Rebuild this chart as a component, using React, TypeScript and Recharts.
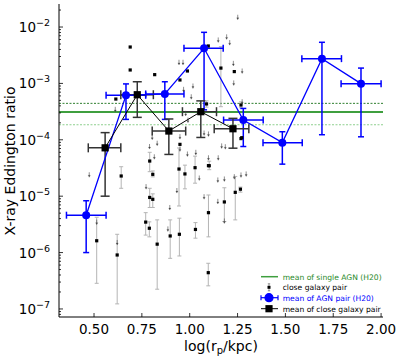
import { ScatterChart, Scatter, XAxis, YAxis, ErrorBar, ReferenceLine } from "recharts";

const FONT = "DejaVu Sans";

const X_DOMAIN = [0.317, 2.01];
const X_TICKS = [0.5, 0.75, 1.0, 1.25, 1.5, 1.75, 2.0];
const Y_DOMAIN = [7.2e-8, 2.56e-2];
const Y_DECADES = [-8, -7, -6, -5, -4, -3, -2];

// mean of AGN pair (H20)
const AGN_X = [0.459, 0.667, 0.87, 1.075, 1.28, 1.484, 1.691, 1.895];
const AGN_XLO = [0.356, 0.563, 0.77, 0.97, 1.177, 1.383, 1.586, 1.791];
const AGN_XHI = [0.563, 0.77, 0.97, 1.175, 1.384, 1.588, 1.793, 2.0];
const AGN_Y = [4.6e-6, 6.15e-4, 6.5e-4, 4.2e-3, 2.24e-4, 8.9e-5, 2.75e-3, 9.9e-4];
const AGN_YLO = [1.0e-6, 2.3e-4, 2.3e-4, 3.4e-4, 7.6e-5, 3.7e-5, 1.23e-4, 1.13e-4];
const AGN_YHI = [8.3e-6, 9.8e-4, 1.07e-3, 8.05e-3, 3.6e-4, 1.39e-4, 5.36e-3, 1.87e-3];

// mean of close galaxy pair
const PAIR_X = [0.558, 0.726, 0.891, 1.058, 1.226];
const PAIR_XLO = [0.47, 0.64, 0.804, 0.962, 1.128];
const PAIR_XHI = [0.64, 0.81, 0.979, 1.14, 1.309];
const PAIR_Y = [7.2e-5, 6.3e-4, 1.43e-4, 3.15e-4, 1.57e-4];
const PAIR_YLO = [1.0e-5, 2.5e-4, 5.5e-5, 1.1e-4, 7.1e-5];
const PAIR_YHI = [1.34e-4, 1.07e-3, 2.34e-4, 4.9e-4, 2.4e-4];

// mean of single AGN (H20) and its range
const SINGLE_AGN = 3.1e-4;
const SINGLE_AGN_LO = 1.85e-4;
const SINGLE_AGN_HI = 4.43e-4;

// close galaxy pairs, detections
const DET_X = [0.689, 0.689, 0.817, 0.988, 0.614, 0.949, 1.097, 1.163, 1.233, 1.088, 1.268, 1.272, 1.098, 0.949, 0.944, 0.975, 1.028, 1.102, 1.268, 1.238, 1.265, 1.181, 1.098, 0.791, 0.807, 0.642, 0.791, 0.807, 0.77, 0.789, 0.83, 0.898, 0.946, 1.03, 0.514, 0.621, 1.097];
const DET_Y = [4.42e-3, 1.73e-3, 1.43e-3, 1.66e-3, 5.28e-4, 1.15e-3, 4.61e-3, 1.87e-3, 1.62e-3, 4.32e-4, 4.14e-4, 1.09e-4, 3.48e-5, 8.3e-5, 3.03e-5, 2.48e-5, 3.2e-5, 3.47e-5, 1.05e-4, 1.17e-5, 1.33e-5, 7.9e-6, 5.1e-6, 4.2e-5, 2.44e-5, 2.28e-5, 9.5e-6, 8.8e-6, 3.47e-6, 2.7e-6, 1.41e-6, 1.97e-6, 2.11e-6, 2.57e-6, 1.62e-6, 9.06e-7, 4.4e-7];
const DET_LO = [4.42e-3, 1.73e-3, 1.43e-3, 1.66e-3, 5.28e-4, 1.15e-3, 4.61e-3, 3.86e-4, 1.62e-3, 3.8e-4, 3.7e-4, 1.09e-4, 3.48e-5, 8.3e-5, 6.7e-6, 1.35e-5, 1.7e-5, 2.95e-5, 1.05e-4, 3.8e-6, 1.18e-5, 3.55e-6, 1.9e-6, 2.72e-5, 2.2e-5, 1.38e-5, 6.3e-6, 6.3e-6, 2.04e-6, 1.9e-6, 2.24e-7, 7.9e-7, 8.7e-7, 1.8e-6, 2.85e-7, 1.23e-7, 2.57e-7];
const DET_HI = [4.42e-3, 1.73e-3, 1.43e-3, 1.66e-3, 5.28e-4, 1.15e-3, 4.61e-3, 4.48e-3, 1.62e-3, 4.9e-4, 4.7e-4, 1.09e-4, 3.48e-5, 8.3e-5, 7.16e-5, 3.55e-5, 5.13e-5, 4.17e-5, 1.05e-4, 2.24e-5, 1.45e-5, 1.41e-5, 1.05e-5, 6.0e-5, 2.8e-5, 3.33e-5, 1.38e-5, 1.1e-5, 5.1e-6, 3.5e-6, 3.8e-6, 3.8e-6, 4.07e-6, 3.4e-6, 4.23e-6, 2.11e-6, 6.46e-7];

// close galaxy pairs, upper limits
const LIM_X = [0.475, 0.514, 0.611, 0.621, 0.772, 0.804, 0.83, 0.815, 0.79, 0.886, 0.896, 0.933, 0.944, 0.965, 0.968, 1.008, 1.017, 0.979, 0.991, 0.949, 0.988, 1.032, 0.949, 1.05, 1.075, 1.098, 1.098, 1.147, 1.181, 1.233, 1.268, 1.295, 1.075, 1.147, 1.181, 1.167, 1.186, 1.149, 1.149, 1.193, 1.209, 1.251, 1.228, 1.274, 1.23, 1.274];
const LIM_Y = [2.4e-5, 3.47e-6, 3.47e-4, 1.51e-6, 1.48e-5, 1.11e-4, 8.7e-5, 5.0e-5, 7.6e-5, 2.63e-6, 6.3e-6, 1.26e-5, 2.37e-3, 2.37e-3, 7.85e-4, 5.8e-4, 9.0e-4, 2.95e-4, 2.24e-4, 6.9e-5, 5.6e-5, 6.0e-5, 1.14e-4, 2.1e-5, 1.32e-4, 1.27e-4, 4.8e-5, 1.94e-5, 2.02e-5, 2.22e-5, 2.38e-5, 2.48e-5, 9.8e-6, 8.1e-6, 3.63e-6, 7.8e-5, 7.55e-5, 4.8e-5, 5.9e-3, 6.7e-3, 5.3e-3, 1.49e-2, 2.27e-3, 1.66e-3, 1.02e-3, 4.74e-4];

const LEGEND_LABELS = ["mean of single AGN (H20)", "close galaxy pair", "mean of AGN pair (H20)", "mean of close galaxy pair"];
const LEGEND_COLORS = ["#2a8a2a", "#000", "#0000ff", "#000"];

const agnData = AGN_X.map((x, i) => ({
  x,
  y: AGN_Y[i],
  xErr: [x - AGN_XLO[i], AGN_XHI[i] - x],
  yErr: [AGN_Y[i] - AGN_YLO[i], AGN_YHI[i] - AGN_Y[i]],
}));

const pairData = PAIR_X.map((x, i) => ({
  x,
  y: PAIR_Y[i],
  xErr: [x - PAIR_XLO[i], PAIR_XHI[i] - x],
  yErr: [PAIR_Y[i] - PAIR_YLO[i], PAIR_YHI[i] - PAIR_Y[i]],
}));

const detData = DET_X.map((x, i) => ({
  x,
  y: DET_Y[i],
  yErr: [DET_Y[i] - DET_LO[i], DET_HI[i] - DET_Y[i]],
}));
const detWithErr = detData.filter((d) => d.yErr[0] > 0 || d.yErr[1] > 0);
const detNoErr = detData.filter((d) => d.yErr[0] === 0 && d.yErr[1] === 0);

const limData = LIM_X.map((x, i) => ({ x, y: LIM_Y[i] }));

// major + minor log ticks inside the domain
const Y_TICKS: number[] = [];
Y_DECADES.forEach((e) => {
  for (let k = 1; k < 10; k++) {
    const v = k * Math.pow(10, e);
    if (v >= Y_DOMAIN[0] && v <= Y_DOMAIN[1]) Y_TICKS.push(v);
  }
});

const isMajor = (v: number) => {
  const l = Math.log10(v);
  return Math.abs(l - Math.round(l)) < 1e-6;
};

const LeftTick = (props: any) => {
  const { x, y, payload } = props;
  const v = payload.value;
  const major = isMajor(v);
  const e = Math.round(Math.log10(v));
  return (
    <g>
      <line x1={x} x2={x + (major ? 4 : 2)} y1={y} y2={y} stroke="#000" strokeWidth={0.8} />
      {major && (
        <text x={x - 9} y={y + 5} textAnchor="end" fontSize={13.5} fontFamily={FONT} fill="#000">
          10
          <tspan dy={-6} fontSize={9.5}>{"\u2212" + -e}</tspan>
        </text>
      )}
    </g>
  );
};

const RightTick = (props: any) => {
  const { x, y, payload } = props;
  const major = isMajor(payload.value);
  return <line x1={x} x2={x - (major ? 4 : 2)} y1={y} y2={y} stroke="#000" strokeWidth={0.8} />;
};

const BottomTick = (props: any) => {
  const { x, y, payload } = props;
  return (
    <g>
      <line x1={x} x2={x} y1={y} y2={y - 4} stroke="#000" strokeWidth={0.8} />
      <text x={x} y={y + 17} textAnchor="middle" fontSize={13.5} fontFamily={FONT} fill="#000">
        {payload.value.toFixed(2)}
      </text>
    </g>
  );
};

const TopTick = (props: any) => {
  const { x, y } = props;
  return <line x1={x} x2={x} y1={y} y2={y + 4} stroke="#000" strokeWidth={0.8} />;
};

const SmallSquare = (p: any) => <rect x={p.cx - 1.6} y={p.cy - 1.6} width={3.2} height={3.2} fill="#000" />;
const BigSquare = (p: any) => <rect x={p.cx - 3.6} y={p.cy - 3.6} width={7.2} height={7.2} fill="#000" />;
const BlueDot = (p: any) => <circle cx={p.cx} cy={p.cy} r={4} fill="#0000ff" />;
const LimitArrow = (p: any) => (
  <g stroke="#444" fill="#444">
    <line x1={p.cx} x2={p.cx} y1={p.cy - 2.5} y2={p.cy + 1} strokeWidth={0.6} />
    <path d={`M${p.cx - 1.1},${p.cy + 0.6} L${p.cx + 1.1},${p.cy + 0.6} L${p.cx},${p.cy + 2.6} Z`} strokeWidth={0.2} />
  </g>
);

function LegendBox() {
  const rows = [276.7, 287.3, 297.7, 308.7];
  const hx = 269;
  return (
    <g fontFamily={FONT} fontSize={7.6}>
      <line x1={261} x2={278} y1={rows[0]} y2={rows[0]} stroke="#3f9f3f" strokeWidth={1.5} />
      <g>
        <line x1={hx} x2={hx} y1={rows[1] - 3.5} y2={rows[1] + 3.5} stroke="#888" strokeWidth={0.8} />
        <line x1={hx - 1.2} x2={hx + 1.2} y1={rows[1] - 3.5} y2={rows[1] - 3.5} stroke="#444" strokeWidth={0.6} />
        <line x1={hx - 1.2} x2={hx + 1.2} y1={rows[1] + 3.5} y2={rows[1] + 3.5} stroke="#444" strokeWidth={0.6} />
        <rect x={hx - 1.5} y={rows[1] - 1.5} width={3} height={3} fill="#000" />
      </g>
      <g stroke="#0000ff" strokeWidth={1.2}>
        <line x1={261} x2={278} y1={rows[2]} y2={rows[2]} />
        <line x1={hx} x2={hx} y1={rows[2] - 4} y2={rows[2] + 4} />
        <line x1={261} x2={261} y1={rows[2] - 2.5} y2={rows[2] + 2.5} />
        <line x1={278} x2={278} y1={rows[2] - 2.5} y2={rows[2] + 2.5} />
        <circle cx={hx} cy={rows[2]} r={4} fill="#0000ff" />
      </g>
      <g>
        <line x1={261} x2={278} y1={rows[3]} y2={rows[3]} stroke="#000" strokeWidth={1} />
        <rect x={hx - 3.6} y={rows[3] - 3.6} width={7.2} height={7.2} fill="#000" />
      </g>
      {LEGEND_LABELS.map((t, i) => (
        <text key={t} x={282.7} y={rows[i] + 2.8} fill={LEGEND_COLORS[i]}>
          {t}
        </text>
      ))}
    </g>
  );
}

export default function App() {
  return (
    <div style={{ position: "absolute", left: 0, top: 0, width: 399, height: 360, background: "#fff" }}>
      <ScatterChart width={399} height={360} margin={{ top: 4, right: 16, bottom: 0, left: 0 }}>
        <XAxis
          type="number"
          dataKey="x"
          domain={X_DOMAIN}
          ticks={X_TICKS}
          interval={0}
          allowDataOverflow
          height={43}
          tickSize={0}
          tickMargin={0}
          tickLine={false}
          tick={<BottomTick />}
          axisLine={{ stroke: "#000", strokeWidth: 1 }}
        />
        <XAxis
          xAxisId="top"
          orientation="top"
          type="number"
          domain={X_DOMAIN}
          ticks={X_TICKS}
          interval={0}
          allowDataOverflow
          height={0}
          tickSize={0}
          tickMargin={0}
          tickLine={false}
          tick={<TopTick />}
          axisLine={{ stroke: "#000", strokeWidth: 1 }}
        />
        <YAxis
          type="number"
          dataKey="y"
          scale="log"
          domain={Y_DOMAIN}
          ticks={Y_TICKS}
          interval={0}
          allowDataOverflow
          width={59}
          tickSize={0}
          tickMargin={0}
          tickLine={false}
          tick={<LeftTick />}
          axisLine={{ stroke: "#000", strokeWidth: 1 }}
        />
        <YAxis
          yAxisId="right"
          orientation="right"
          type="number"
          scale="log"
          domain={Y_DOMAIN}
          ticks={Y_TICKS}
          interval={0}
          allowDataOverflow
          width={0}
          tickSize={0}
          tickMargin={0}
          tickLine={false}
          tick={<RightTick />}
          axisLine={{ stroke: "#000", strokeWidth: 1 }}
        />
        <ReferenceLine y={SINGLE_AGN_HI} stroke="#2f7f2f" strokeWidth={1} strokeDasharray="2 1.5" />
        <ReferenceLine y={SINGLE_AGN} stroke="#3f9f3f" strokeWidth={2} />
        <ReferenceLine y={SINGLE_AGN_LO} stroke="#8fd08f" strokeWidth={1.2} strokeDasharray="2 1.5" />
        <Scatter data={detWithErr} dataKey="y" fill="#000" shape={SmallSquare} isAnimationActive={false}>
          <ErrorBar dataKey="yErr" direction="y" width={2} stroke="#b4b4b4" strokeWidth={1} />
        </Scatter>
        <Scatter data={detNoErr} dataKey="y" fill="#000" shape={SmallSquare} isAnimationActive={false} />
        <Scatter data={limData} dataKey="y" fill="#444" shape={LimitArrow} isAnimationActive={false} />
        <Scatter
          data={agnData}
          dataKey="y"
          fill="#0000ff"
          line={{ stroke: "#0000ff", strokeWidth: 1.3 }}
          lineType="joint"
          shape={BlueDot}
          isAnimationActive={false}
        >
          <ErrorBar dataKey="yErr" direction="y" width={3} stroke="#0000ff" strokeWidth={1.5} />
          <ErrorBar dataKey="xErr" direction="x" width={3.5} stroke="#0000ff" strokeWidth={1.5} />
        </Scatter>
        <Scatter
          data={pairData}
          dataKey="y"
          fill="#000"
          line={{ stroke: "#000", strokeWidth: 1 }}
          lineType="joint"
          shape={BigSquare}
          isAnimationActive={false}
        >
          <ErrorBar dataKey="yErr" direction="y" width={4.5} stroke="#333" strokeWidth={1.5} />
          <ErrorBar dataKey="xErr" direction="x" width={4.5} stroke="#333" strokeWidth={1.5} />
        </Scatter>
      </ScatterChart>
      <svg width={399} height={360} style={{ position: "absolute", left: 0, top: 0, pointerEvents: "none" }}>
        <text transform="translate(15,161) rotate(-90)" textAnchor="middle" fontSize={14} fontFamily={FONT} fill="#000">
          X-ray Eddington ratio
        </text>
        <text x={221} y={351} textAnchor="middle" fontSize={14} fontFamily={FONT} fill="#000">
          log(r
          <tspan dy={3} fontSize={10}>p</tspan>
          <tspan dy={-3}>/kpc)</tspan>
        </text>
        <LegendBox />
      </svg>
    </div>
  );
}
